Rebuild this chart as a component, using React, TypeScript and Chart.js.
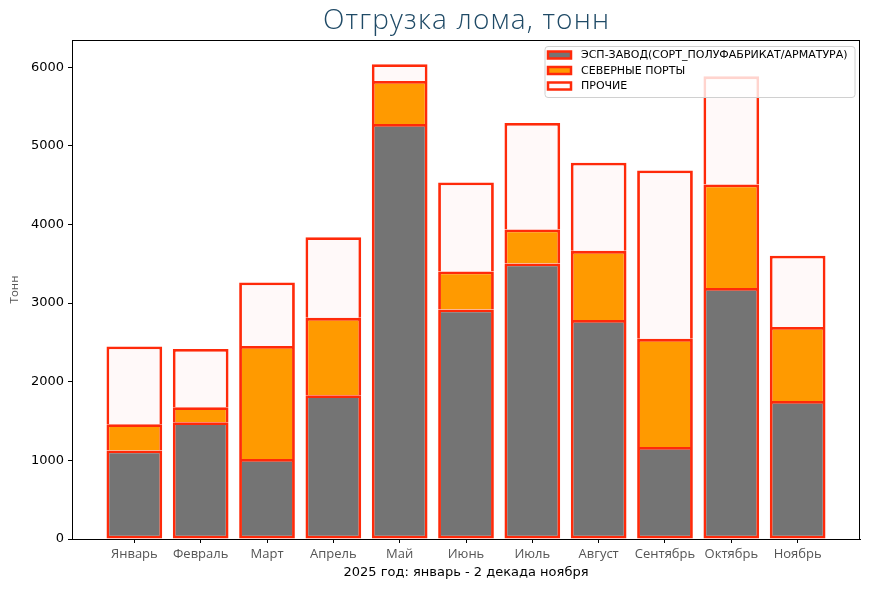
import React, { useEffect, useRef } from "react";
import { Chart, registerables } from "chart.js";

Chart.register(...registerables);

const months = ["Январь", "Февраль", "Март", "Апрель", "Май", "Июнь", "Июль", "Август", "Сентябрь", "Октябрь", "Ноябрь"];
const seriesNames = ["ЭСП-ЗАВОД(СОРТ_ПОЛУФАБРИКАТ/АРМАТУРА)", "СЕВЕРНЫЕ ПОРТЫ", "ПРОЧИЕ"];
const espValues = [1125, 1485, 1017, 1828, 5276, 2919, 3504, 2786, 1170, 3193, 1756];
const northValues = [334, 191, 1438, 984, 547, 483, 432, 878, 1375, 1316, 941];
const otherValues = [989, 741, 807, 1026, 213, 1132, 1353, 1120, 2142, 1374, 904];
const yTicks = [0, 1000, 2000, 3000, 4000, 5000, 6000];

const EDGE = "#ff2a0a";
const fills = ["#747474", "#ff9a00", "#fff9f9"];
const TITLE = "Отгрузка лома, тонн";

export default function App() {
  const ref = useRef<HTMLCanvasElement | null>(null);
  useEffect(() => {
    if (!ref.current) return;
    const frame = {
      id: "frame",
      afterDatasetsDraw(chart: any) {
        const { ctx, chartArea: a } = chart;
        ctx.save();
        ctx.strokeStyle = "#000";
        ctx.lineWidth = 1;
        ctx.strokeRect(a.left + 0.5, a.top + 0.5, a.right - a.left - 1, a.bottom - a.top);
        ctx.restore();
      },
      afterDraw(chart: any) {
        const { ctx, chartArea: a } = chart;
        ctx.save();
        // title
        ctx.font = "300 28px 'Open Sans'";
        const w = ctx.measureText(TITLE).width;
        const spacing = Math.max(0, Math.min(1.2, (315 - w) / TITLE.length));
        (ctx as any).letterSpacing = `${spacing.toFixed(2)}px`;
        ctx.fillStyle = "#1f4a66";
        ctx.textAlign = "center";
        ctx.textBaseline = "middle";
        ctx.fillText(TITLE, (a.left + a.right) / 2 + spacing / 2, 21);
        (ctx as any).letterSpacing = "0px";
        // legend
        const bx = 545, by = 46.5, bw = 310, bh = 51;
        ctx.beginPath();
        (ctx as any).roundRect(bx, by, bw, bh, 3);
        ctx.fillStyle = "rgba(255,255,255,0.8)";
        ctx.fill();
        ctx.strokeStyle = "#d0d0d0";
        ctx.lineWidth = 1;
        ctx.stroke();
        const rows = [55, 70.5, 86];
        ctx.font = "11px 'DejaVu Sans'";
        ctx.textAlign = "left";
        ctx.textBaseline = "middle";
        seriesNames.forEach((n, i) => {
          ctx.fillStyle = fills[i];
          ctx.fillRect(548, rows[i] - 3.5, 23, 7);
          ctx.strokeStyle = EDGE;
          ctx.lineWidth = 2.5;
          ctx.strokeRect(548, rows[i] - 3.5, 23, 7);
          ctx.fillStyle = "#000";
          ctx.fillText(n, 581, rows[i] + 0.5);
        });
        ctx.restore();
      },
    };
    const mk = (vals: number[], i: number) => ({
      label: seriesNames[i],
      data: vals.map((v, k) => ({ x: k, y: v })),
      backgroundColor: fills[i],
      borderColor: EDGE,
      borderWidth: 2.8,
      borderSkipped: i === 0 ? false : "start",
      categoryPercentage: 1,
      barPercentage: 0.84,
    });
    const chart = new Chart(ref.current, {
      type: "bar",
      data: {
        datasets: [mk(espValues, 0), mk(northValues, 1), mk(otherValues, 2)] as any,
      },
      plugins: [frame],
      options: {
        animation: false,
        responsive: false,
        devicePixelRatio: 1,
        layout: { padding: { top: 40, right: 9, left: 0, bottom: 0 } },
        plugins: { legend: { display: false }, tooltip: { enabled: false }, title: { display: false } },
        scales: {
          x: {
            type: "linear",
            stacked: true,
            min: -0.94,
            max: 10.94,
            offset: false,
            afterBuildTicks: (s: any) => {
              s.ticks = months.map((_, i) => ({ value: i }));
            },
            afterFit: (s: any) => {
              s.height = 51;
            },
            ticks: {
              autoSkip: false,
              maxRotation: 0,
              padding: 3,
              color: "#555",
              font: { family: "'Open Sans'", size: 13 },
              callback: (v: any) => months[v as number] ?? "",
            },
            grid: { offset: false, drawOnChartArea: false, drawTicks: true, tickLength: 4, tickColor: "#000" },
            border: { display: true, color: "#000", width: 1 },
            title: {
              display: true,
              text: "2025 год: январь - 2 декада ноября",
              color: "#000",
              font: { family: "'DejaVu Sans'", size: 13 },
              padding: { top: 2, bottom: 10 },
            },
          },
          y: {
            stacked: true,
            min: 0,
            max: 6345,
            afterBuildTicks: (s: any) => {
              s.ticks = yTicks.map((v) => ({ value: v }));
            },
            afterFit: (s: any) => {
              s.width = 72;
            },
            ticks: {
              color: "#000",
              padding: 4,
              font: { family: "'DejaVu Sans'", size: 13 },
              callback: (v: any) => String(v),
            },
            grid: { offset: false, drawOnChartArea: false, drawTicks: true, tickLength: 4, tickColor: "#000" },
            border: { display: true, color: "#000", width: 1 },
            title: {
              display: true,
              text: "Тонн",
              color: "#555",
              font: { family: "'Open Sans'", size: 11.5 },
              padding: { top: 8, bottom: 0 },
            },
          },
        },
      } as any,
    });
    return () => chart.destroy();
  }, []);
  return (
    <div style={{ position: "absolute", left: 0, top: 0, width: 869, height: 590, background: "#fff" }}>
      <canvas ref={ref} width={869} height={590} style={{ width: 869, height: 590 }} />
    </div>
  );
}
